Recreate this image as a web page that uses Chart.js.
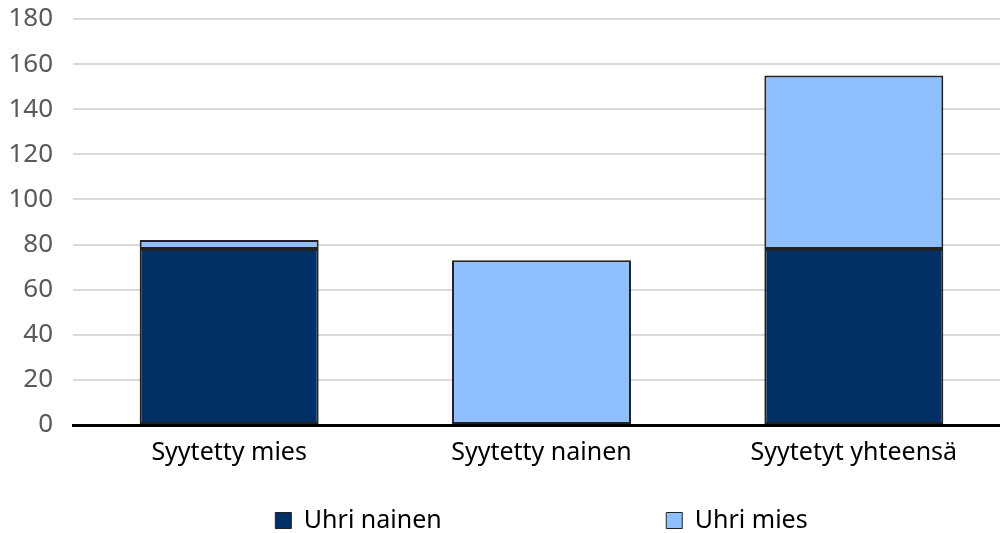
<!DOCTYPE html>
<html>
<head>
<meta charset="utf-8">
<script src="https://cdn.jsdelivr.net/npm/chart.js@4"></script>
<style>
  body { margin: 0; overflow: hidden; background: #fff; }
  #wrap { width: 1010px; height: 533px; }
</style>
</head>
<body>
<div id="wrap"><canvas id="chart"></canvas></div>
<script>
var categories = ['Syytetty mies', 'Syytetty nainen', 'Syytetyt yhteensä'];
var uhriNainen = [78, 0, 78];
var uhriMies = [4, 73, 77];
var seriesNames = ['Uhri nainen', 'Uhri mies'];
var colors = ['#003066', '#8fbfff'];

// legend is spread out and centred over the plot, not the canvas
var legendShift = {
    id: 'legendShift',
    afterLayout: function (chart) {
        chart.legend.left = chart.chartArea.left;
        chart.legend.right = chart.chartArea.right;
        chart.legend.top += 10;
        chart.legend.bottom += 10;
    }
};

var ctx = document.getElementById('chart').getContext('2d');
new Chart(ctx, {
    type: 'bar',
    data: {
        labels: categories,
        datasets: [
            {
                label: seriesNames[0],
                data: uhriNainen,
                backgroundColor: colors[0],
                borderColor: '#222',
                borderWidth: 2,
                borderSkipped: false
            },
            {
                label: seriesNames[1],
                data: uhriMies,
                backgroundColor: colors[1],
                borderColor: '#222',
                borderWidth: 2,
                borderSkipped: false
            }
        ]
    },
    options: {
        responsive: true,
        maintainAspectRatio: false,
        animation: false,
        categoryPercentage: 1,
        barPercentage: 0.573,
        layout: { padding: 0 },
        plugins: {
            tooltip: { enabled: false },
            legend: {
                position: 'bottom',
                labels: {
                    font: { family: 'Noto Sans', size: 25 },
                    color: '#000',
                    boxWidth: 16,
                    boxHeight: 16,
                    padding: 10,
                    generateLabels: function (chart) {
                        var items = Chart.defaults.plugins.legend.labels.generateLabels(chart);
                        items.forEach(function (it, i) {
                            it.lineWidth = 1;
                            it.strokeStyle = '#222';
                            if (i === 0) it.text = it.text + '\u2007'.repeat(15);
                        });
                        return items;
                    }
                }
            }
        },
        scales: {
            x: {
                stacked: true,
                grid: { display: false },
                border: { color: '#000', width: 3 },
                ticks: { font: { family: 'Noto Sans', size: 25 }, color: '#000', padding: 5 },
                afterFit: function (scale) { scale.height = 63; }
            },
            y: {
                stacked: true,
                min: 0,
                max: 180,
                grid: { color: '#d9d9d9', lineWidth: 2, drawTicks: false },
                border: { display: false },
                ticks: { stepSize: 20, font: { family: 'Noto Sans', size: 26 }, color: '#595959', padding: 20 },
                afterFit: function (scale) {
                    scale.width = 73;
                    scale.paddingTop = 19;
                    scale.paddingBottom = 0;
                }
            }
        }
    },
    plugins: [legendShift]
});
</script>
</body>
</html>
